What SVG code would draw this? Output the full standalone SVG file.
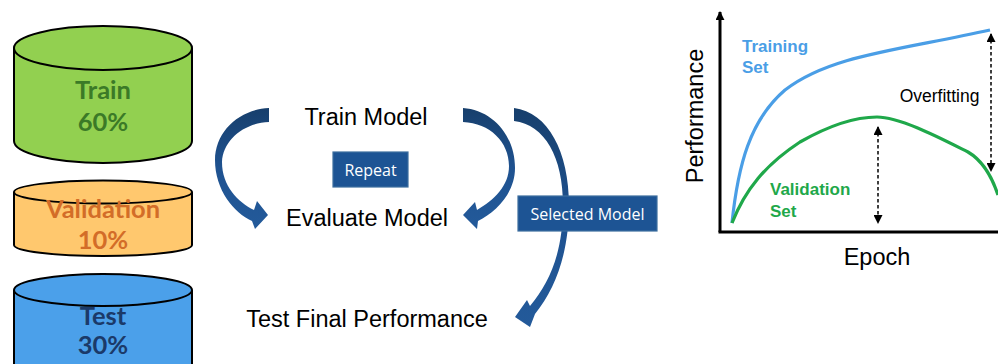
<svg xmlns="http://www.w3.org/2000/svg" width="998" height="364" viewBox="0 0 998 364">
<defs>
<linearGradient id="ag" x1="0" y1="0" x2="0" y2="1">
<stop offset="0" stop-color="#173f6c"/>
<stop offset="0.5" stop-color="#1f5290"/>
<stop offset="1" stop-color="#235a9a"/>
</linearGradient>
<marker id="ah" viewBox="0 0 10 10" refX="9" refY="5" markerWidth="10" markerHeight="9" markerUnits="userSpaceOnUse" orient="auto-start-reverse">
<path d="M0,0 L10,5 L0,10 Z" fill="#000"/>
</marker>
<marker id="axh" viewBox="0 0 10 10" refX="9" refY="5" markerWidth="9" markerHeight="9" markerUnits="userSpaceOnUse" orient="auto">
<path d="M0,0 L10,5 L0,10 Z" fill="#000"/>
</marker>
</defs>
<style>
.cyl{stroke:#000;stroke-width:2}
.ct{font-family:Lato,"Open Sans",sans-serif;font-weight:bold;font-size:25.5px;text-anchor:middle}
.lbl{font-family:"Liberation Sans",Arial,sans-serif;font-size:23.5px;fill:#000;text-anchor:middle}
.box{fill:#1d5494;stroke:#3d6e9e;stroke-width:1.2}
.bt{font-family:"Open Sans",sans-serif;font-size:16px;fill:#fff;text-anchor:middle}
.arr{fill:url(#ag)}
.cb{font-family:"Liberation Sans",Arial,sans-serif;font-weight:bold;font-size:17px}
.dash{stroke:#000;stroke-width:1.5;stroke-dasharray:3.5,2.5;fill:none}
</style>
<rect width="998" height="364" fill="#fff"/>

<g id="train-cyl">
<path class="cyl" fill="#92d050" d="M14,48 L14,141 A89,22 0 0 0 192,141 L192,48"/>
<ellipse class="cyl" fill="#92d050" cx="103" cy="48" rx="89" ry="22"/>
<text class="ct" fill="#3b7a27" x="103" y="99">Train</text>
<text class="ct" fill="#3b7a27" x="103" y="131">60%</text>
</g>

<g id="validation-cyl">
<path class="cyl" fill="#ffc86e" d="M14,192 L14,245 A89,11 0 0 0 192,245 L192,192"/>
<ellipse class="cyl" fill="#ffc86e" cx="103" cy="192" rx="89" ry="11.5"/>
<text class="ct" fill="#d36d28" x="103" y="218">Validation</text>
<text class="ct" fill="#d36d28" x="103" y="249">10%</text>
</g>

<g id="test-cyl">
<path class="cyl" fill="#4ba0ea" d="M14,290 L14,380 L192,380 L192,290"/>
<ellipse class="cyl" fill="#4ba0ea" cx="103" cy="290" rx="89" ry="16"/>
<text class="ct" fill="#1b3a69" x="103" y="325">Test</text>
<text class="ct" fill="#1b3a69" x="103" y="354">30%</text>
</g>

<g id="connectors">
<path class="arr" d="M269,108 C240,109 215,131 215,160 C215,190 234,213 252,221 L255,229 L268,215 L257,201 L254,210 C238,202 222,186 222,162 C223,140 244,123 269,122 Z"/>
<path class="arr" d="M463,108 C492,110 515,135 515,168 C515,193 496,212 478,221 L477,229 L463,215 L475,202 L477,210 C494,200 509,186 509,166 C509,142 490,123 463,122 Z"/>
<path class="arr" d="M514,108 C548,112 569,152 569,205 C569,252 556,288 535,314 L530,327 L515,317 L527,300 L530,306 C550,282 563,252 563,205 C563,157 545,125 514,121 Z"/>
</g>

<g id="train-model"><text class="lbl" x="366" y="125">Train Model</text></g>
<g id="evaluate-model"><text class="lbl" x="367" y="226">Evaluate Model</text></g>
<g id="test-final"><text class="lbl" x="367" y="327">Test Final Performance</text></g>

<g id="repeat">
<rect class="box" x="333" y="152" width="75" height="35"/>
<text class="bt" x="370.5" y="175.5">Repeat</text>
</g>
<g id="selected-model">
<rect class="box" x="518" y="196" width="139" height="35"/>
<text class="bt" x="587.5" y="219.5">Selected Model</text>
</g>

<g id="chart">
<line x1="720" y1="232" x2="720" y2="12" stroke="#000" stroke-width="3" marker-end="url(#axh)"/>
<line x1="718.5" y1="232" x2="998" y2="232" stroke="#000" stroke-width="3"/>
<path d="M732,223 C738,165 750,120 785,90 C830,55 900,50 990,30" fill="none" stroke="#4a9ee6" stroke-width="3.2"/>
<path d="M732,223 C745,190 765,165 800,142 C830,125 855,117 877,117 C900,117 940,138 968,152 C985,162 993,180 998,195" fill="none" stroke="#1fa84a" stroke-width="3.2"/>
<line class="dash" x1="991" y1="34" x2="991" y2="171" marker-start="url(#ah)" marker-end="url(#ah)"/>
<line class="dash" x1="878" y1="127" x2="878" y2="223" marker-start="url(#ah)" marker-end="url(#ah)"/>
<text class="cb" fill="#4a9ee6" x="742" y="52">Training</text>
<text class="cb" fill="#4a9ee6" x="742" y="73">Set</text>
<text class="cb" fill="#1fa84a" x="770" y="195">Validation</text>
<text class="cb" fill="#1fa84a" x="770" y="217">Set</text>
<text font-family="Liberation Sans,Arial,sans-serif" font-size="17.5" x="939.5" y="102" text-anchor="middle">Overfitting</text>
<text class="lbl" transform="translate(703,116) rotate(-90)" x="0" y="0">Performance</text>
<text class="lbl" x="877" y="265">Epoch</text>
</g>
</svg>
